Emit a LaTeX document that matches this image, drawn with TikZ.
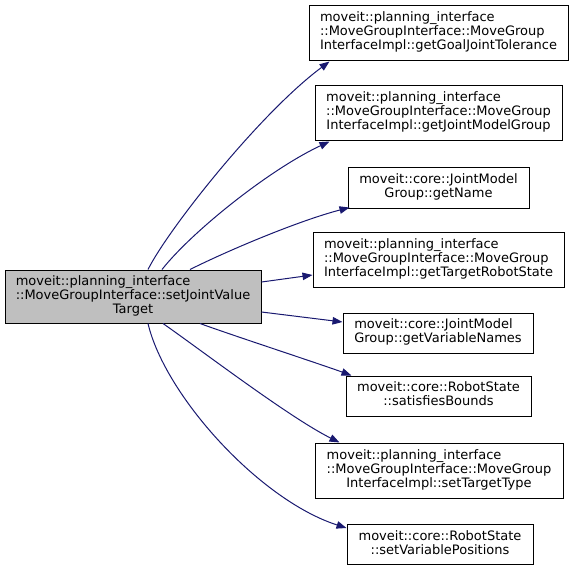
\documentclass[tikz,border=0pt]{standalone}
\usepackage{fontspec}
\setmainfont{DejaVu Sans}
\usetikzlibrary{arrows.meta,calc}
\definecolor{edgeblue}{RGB}{25,25,112}
\definecolor{maingray}{RGB}{191,191,191}
\newcommand{\lbl}[2]{\begin{tabular}{@{}l@{}}#1\\\multicolumn{1}{@{}c@{}}{#2}\end{tabular}}
\newcommand{\lblthree}[3]{\begin{tabular}{@{}l@{}}#1\\#2\\\multicolumn{1}{@{}c@{}}{#3}\end{tabular}}
\begin{document}
\begin{tikzpicture}[x=1pt,y=-1pt,
  box/.style={draw=black,line width=1pt,fill=white,inner sep=0pt,
    font=\fontsize{13}{13.6}\selectfont,text=black},
  mainbox/.style={box,fill=maingray},
  edge/.style={draw=edgeblue,line width=1pt,-{Triangle[length=10pt,width=7.5pt]}}]
\useasboundingbox (0,0) rectangle (573,571);
\node[mainbox,minimum width=256pt,minimum height=53pt] (main) at (133,296.5)
  {\lblthree{moveit::planning\_interface}{::MoveGroupInterface::setJointValue}{Target}};
\node[box,minimum width=259pt,minimum height=55pt] (n1) at (438.5,32.5)
  {\lblthree{moveit::planning\_interface}{::MoveGroupInterface::MoveGroup}{InterfaceImpl::getGoalJointTolerance}};
\node[box,minimum width=247pt,minimum height=55pt] (n2) at (438.5,112.5)
  {\lblthree{moveit::planning\_interface}{::MoveGroupInterface::MoveGroup}{InterfaceImpl::getJointModelGroup}};
\node[box,minimum width=181pt,minimum height=41pt] (n3) at (438.5,187.5)
  {\lbl{moveit::core::JointModel}{Group::getName}};
\node[box,minimum width=251pt,minimum height=55pt] (n4) at (438.5,259.5)
  {\lblthree{moveit::planning\_interface}{::MoveGroupInterface::MoveGroup}{InterfaceImpl::getTargetRobotState}};
\node[box,minimum width=190pt,minimum height=40pt] (n5) at (438,333)
  {\lbl{moveit::core::JointModel}{Group::getVariableNames}};
\node[box,minimum width=185pt,minimum height=40pt] (n6) at (438.5,396)
  {\lbl{moveit::core::RobotState}{::satisfiesBounds}};
\node[box,minimum width=248pt,minimum height=55pt] (n7) at (439,470.5)
  {\lblthree{moveit::planning\_interface}{::MoveGroupInterface::MoveGroup}{InterfaceImpl::setTargetType}};
\node[box,minimum width=186pt,minimum height=40pt] (n8) at (440,544.5)
  {\lbl{moveit::core::RobotState}{::setVariablePositions}};
% edges
\draw[edge] ($(main.north)+(15,0)$) .. controls +(20,-40) and +(-70,52) .. ($(n1.south west)+(21,1)$);
\draw[edge] ($(main.north)+(29,0)$) .. controls +(30,-38) and +(-60,28) .. ($(n2.south west)+(15,1)$);
\draw[edge] ($(main.north)+(57,0)$) .. controls +(40,-20) and +(-50,13) .. ($(n3.south west)+(2,-1)$);
\draw[edge] ($(main.east)+(0,-14.5)$) -- ($(n4.west)+(0,15.5)$);
\draw[edge] ($(main.east)+(0,15.5)$) -- ($(n5.west)+(0,-11)$);
\draw[edge] ($(main.south)+(67,0)$) .. controls +(30,11) and +(-30,-11) .. ($(n6.north west)+(6,0)$);
\draw[edge] ($(main.south)+(30,0)$) .. controls +(40,28) and +(-50,-25) .. ($(n7.north west)+(25,0)$);
\draw[edge] ($(main.south)+(15,0)$) .. controls +(17,72) and +(-87,-28) .. ($(n8.west)+(0,-16.5)$);
\end{tikzpicture}
\end{document}
